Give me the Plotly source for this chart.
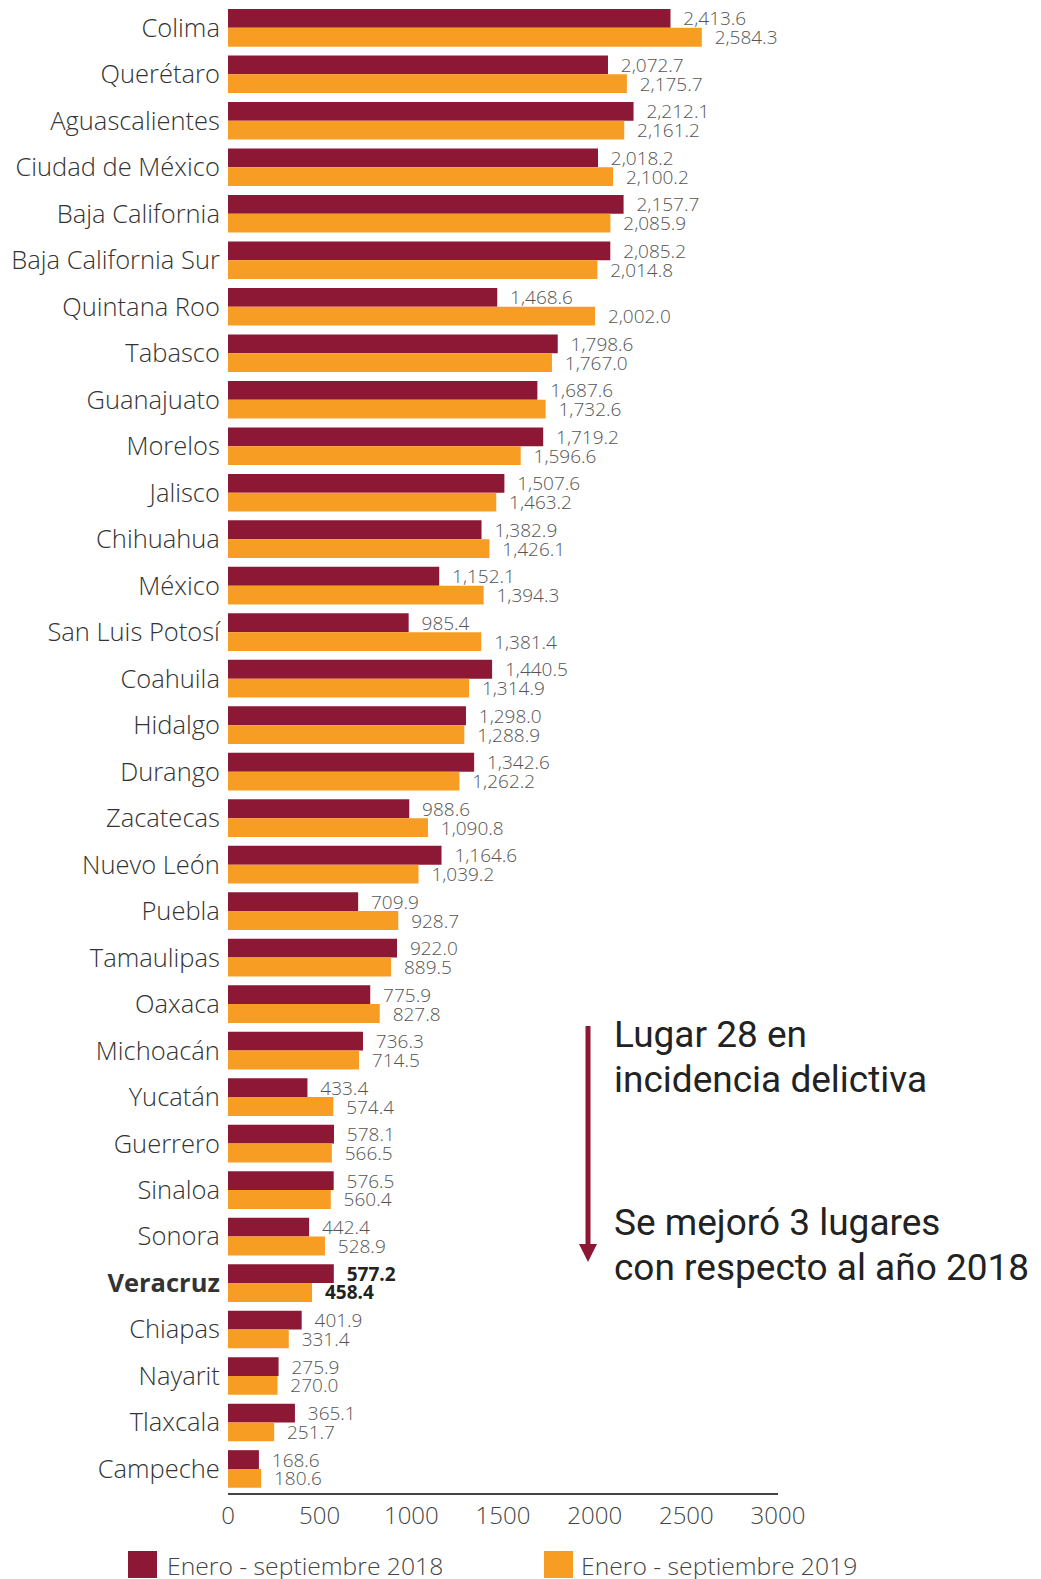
import plotly.graph_objects as go

states = ["Colima", "Querétaro", "Aguascalientes", "Ciudad de México", "Baja California",
          "Baja California Sur", "Quintana Roo", "Tabasco", "Guanajuato", "Morelos",
          "Jalisco", "Chihuahua", "México", "San Luis Potosí", "Coahuila", "Hidalgo",
          "Durango", "Zacatecas", "Nuevo León", "Puebla", "Tamaulipas", "Oaxaca",
          "Michoacán", "Yucatán", "Guerrero", "Sinaloa", "Sonora", "Veracruz",
          "Chiapas", "Nayarit", "Tlaxcala", "Campeche"]
v2018 = [2413.6, 2072.7, 2212.1, 2018.2, 2157.7, 2085.2, 1468.6, 1798.6, 1687.6, 1719.2,
         1507.6, 1382.9, 1152.1, 985.4, 1440.5, 1298.0, 1342.6, 988.6, 1164.6, 709.9,
         922.0, 775.9, 736.3, 433.4, 578.1, 576.5, 442.4, 577.2, 401.9, 275.9, 365.1, 168.6]
v2019 = [2584.3, 2175.7, 2161.2, 2100.2, 2085.9, 2014.8, 2002.0, 1767.0, 1732.6, 1596.6,
         1463.2, 1426.1, 1394.3, 1381.4, 1314.9, 1288.9, 1262.2, 1090.8, 1039.2, 928.7,
         889.5, 827.8, 714.5, 574.4, 566.5, 560.4, 528.9, 458.4, 331.4, 270.0, 251.7, 180.6]
series_names = ["Enero - septiembre 2018", "Enero - septiembre 2019"]
highlight = "Veracruz"
x_ticks = [0, 500, 1000, 1500, 2000, 2500, 3000]

MAROON = "#8C1836"
ORANGE = "#F79D24"
FONT = "Open Sans"

W, H = 1041, 1579
L, T = 220, 0
PW = 550
PH = 1485
R = W - L - PW
B = H - T - PH


def px(x):
    return (x - L) / PW


def py(y):
    return (T + PH - y) / PH


def labels(vals):
    out = []
    for s, v in zip(states, vals):
        t = f"{v:,.1f}"
        out.append(f"  <b>{t}</b>" if s == highlight else f"  {t}")
    return out


def label_colors():
    return ["#222222" if s == highlight else "#555555" for s in states]


fig = go.Figure()
for name, vals, col in [(series_names[0], v2018, MAROON), (series_names[1], v2019, ORANGE)]:
    fig.add_trace(go.Bar(
        y=states, x=vals, name=name, orientation="h",
        marker=dict(color=col, line=dict(width=0)),
        text=labels(vals), textposition="outside", cliponaxis=False,
        constraintext="none",
        textfont=dict(family=FONT, size=19, color=label_colors(), weight=300),
        showlegend=False,
    ))

ticktext = [f"<b>{s}</b>" if s == highlight else s for s in states]

fig.update_layout(
    width=W, height=H,
    margin=dict(l=L, r=R, t=T, b=B, pad=0),
    paper_bgcolor="white", plot_bgcolor="white",
    barmode="group", bargap=0.19, bargroupgap=0,
    font=dict(family=FONT, color="#444444"),
    xaxis=dict(range=[0, 3000], tickvals=x_ticks, ticktext=[str(t) for t in x_ticks],
               showgrid=False, zeroline=False, showline=True, linecolor="#444444",
               linewidth=2, ticks="", tickfont=dict(size=24, color="#444444", weight=300),
               fixedrange=True),
    yaxis=dict(categoryorder="array", categoryarray=states, autorange=False,
               range=[31.516, -0.426],
               tickvals=states, ticktext=ticktext, showgrid=False, zeroline=False,
               showline=False, ticks="outside", ticklen=2, tickcolor="rgba(0,0,0,0)",
               tickfont=dict(size=25.5, color="#333333", weight=300)),
)

shapes = []
# arrow
shapes.append(dict(type="line", xref="paper", yref="paper",
                   x0=px(580), x1=px(580), y0=py(1018), y1=py(1240),
                   line=dict(color=MAROON, width=5)))
shapes.append(dict(type="path", xref="paper", yref="paper",
                   path=f"M {px(571)} {py(1236)} L {px(589)} {py(1236)} L {px(580)} {py(1254)} Z",
                   fillcolor=MAROON, line=dict(width=0)))
# legend squares
for x0, col in [(120, MAROON), (536, ORANGE)]:
    shapes.append(dict(type="rect", xref="paper", yref="paper",
                       x0=px(x0), x1=px(x0 + 29), y0=py(1543), y1=py(1570),
                       fillcolor=col, line=dict(width=0)))
fig.update_layout(shapes=shapes)

ann = []
for txt, y in [("Lugar 28 en", 1026), ("incidencia delictiva", 1071),
               ("Se mejoró 3 lugares", 1214), ("con respecto al año 2018", 1259)]:
    ann.append(dict(xref="paper", yref="paper", x=px(604), y=py(y), xanchor="left",
                    yanchor="middle", text=txt, showarrow=False, align="left",
                    font=dict(family="Roboto", size=37, color="#222222")))
for x0, name in [(157, series_names[0]), (571, series_names[1])]:
    ann.append(dict(xref="paper", yref="paper", x=px(x0), y=py(1557), xanchor="left",
                    yanchor="middle", text=name, showarrow=False,
                    font=dict(family=FONT, size=24.7, color="#444444", weight=300)))
fig.update_layout(annotations=ann)

fig.write_html("out.html")
